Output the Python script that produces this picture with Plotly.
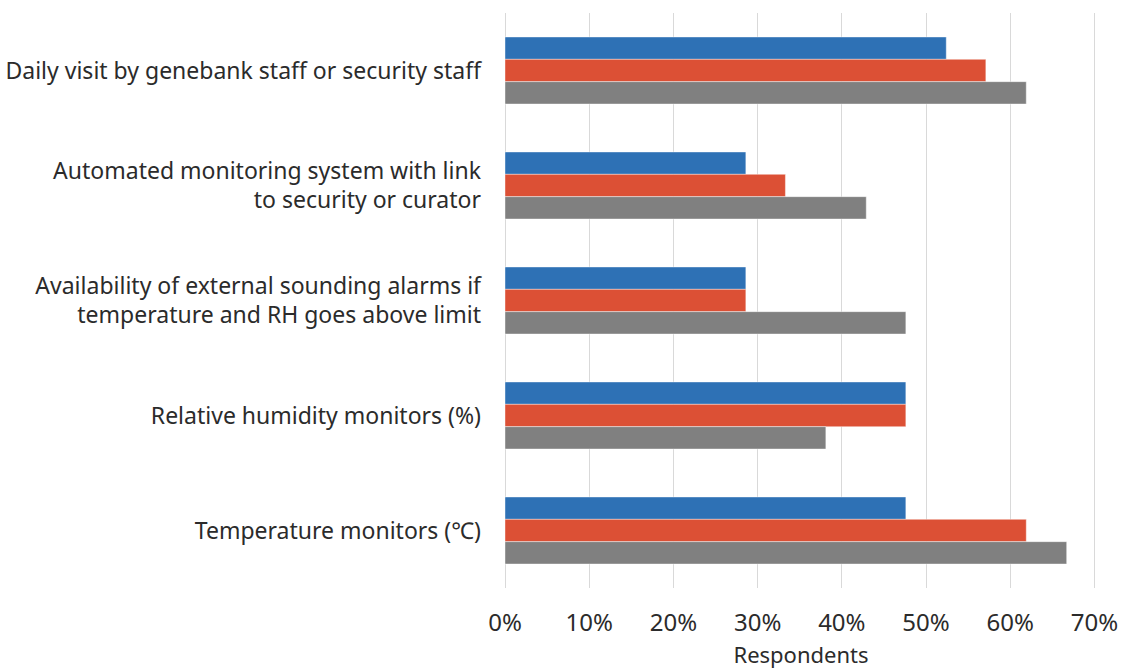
import plotly.graph_objects as go

# categories, listed top to bottom
categories = [
    "Daily visit by genebank staff or security staff",
    "Automated monitoring system with link<br>to security or curator",
    "Availability of external sounding alarms if<br>temperature and RH goes above limit",
    "Relative humidity monitors (%)",
    "Temperature monitors (\u2103)",
]

series_blue = [0.524, 0.286, 0.286, 0.476, 0.476]
series_red = [0.571, 0.333, 0.286, 0.476, 0.619]
series_gray = [0.619, 0.429, 0.476, 0.381, 0.667]

x_ticks = [0, 0.1, 0.2, 0.3, 0.4, 0.5, 0.6, 0.7]
x_tick_labels = ["0%", "10%", "20%", "30%", "40%", "50%", "60%", "70%"]

FONT = "Noto Sans, Open Sans, sans-serif"
TXT = "#2b2b2b"

fig = go.Figure()
for vals, col in [(series_blue, "#2E71B5"), (series_red, "#DC5035"), (series_gray, "#808080")]:
    fig.add_trace(go.Bar(
        y=categories, x=vals, orientation="h",
        marker=dict(color=col, line=dict(color="rgba(255,255,255,0.6)", width=0.7)),
        showlegend=False,
    ))

fig.update_layout(
    width=1121, height=669,
    margin=dict(l=505, r=24, t=13, b=81),
    barmode="group",
    bargap=0.417,
    bargroupgap=0,
    plot_bgcolor="white",
    paper_bgcolor="white",
    font=dict(family=FONT, size=22, color=TXT),
)
fig.update_xaxes(
    # a little past 70% so the last grid line is kept
    range=[0, 0.703],
    automargin=False,
    tickvals=x_ticks, ticktext=x_tick_labels,
    showgrid=True, gridcolor="#D9D9D9", gridwidth=1.3,
    zeroline=True, zerolinecolor="#D9D9D9", zerolinewidth=1.3,
    showline=False, ticks="",
    ticklabelstandoff=18,
    tickfont=dict(size=24, color=TXT),
    title=dict(text="Respondents", font=dict(size=22, color=TXT), standoff=22),
)
fig.update_yaxes(
    autorange="reversed",
    automargin=False,
    showgrid=False, showline=False, ticks="",
    ticklabelstandoff=23,
    tickfont=dict(size=23, color=TXT),
)

# drop the default 8px body margin so the figure fills the window exactly
fig.write_html(
    "out.html",
    config={"displayModeBar": False},
    post_script="document.body.style.margin='0';document.body.style.overflow='hidden';",
)
